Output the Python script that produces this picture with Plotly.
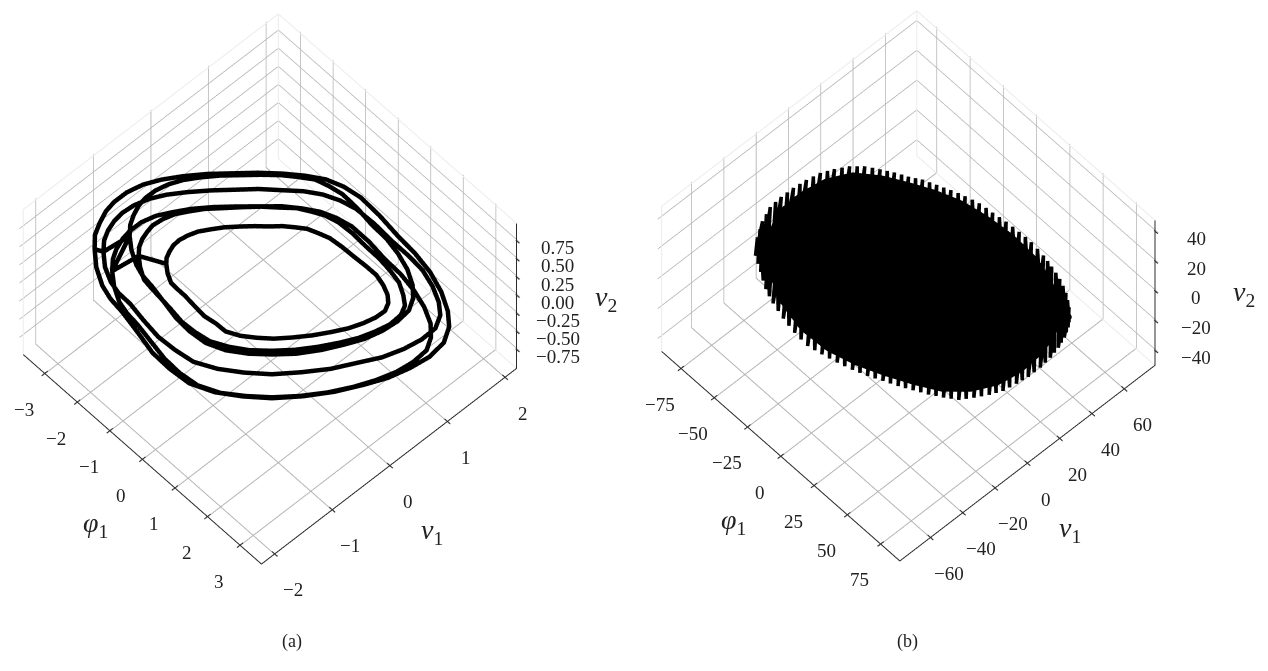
import plotly.graph_objects as go

# panel (a): six bands of the trajectory, one row per band
phi_a = [
    -2.90, -3.05, -3.12, -3.16, -3.15, -3.08, -2.94, -2.73, -2.46, -2.13, -1.78, -1.42, -1.06, -0.72, -0.38, -0.04, 0.32, 0.79, 1.27, 1.73, 2.15, 2.53, 2.84, 3.04, 3.14, 3.09, 2.94, 2.74, 2.46, 2.12, 1.73, 1.31, 0.87, 0.42, -0.04, -0.48, -0.91, -1.37, -1.79, -2.11, -2.38, -2.67, -2.90,
    -2.70, -2.82, -2.88, -2.90, -2.87, -2.79, -2.65, -2.44, -2.18, -1.86, -1.53, -1.19, -0.85, -0.53, -0.21, 0.10, 0.43, 0.85, 1.28, 1.69, 2.06, 2.39, 2.65, 2.82, 2.90, 2.83, 2.67, 2.46, 2.18, 1.86, 1.48, 1.08, 0.66, 0.24, -0.18, -0.58, -0.97, -1.37, -1.74, -2.03, -2.26, -2.51, -2.70,
    -2.32, -2.44, -2.50, -2.53, -2.52, -2.46, -2.35, -2.18, -1.97, -1.70, -1.42, -1.14, -0.85, -0.58, -0.30, -0.03, 0.26, 0.63, 1.02, 1.38, 1.72, 2.02, 2.27, 2.43, 2.51, 2.47, 2.35, 2.19, 1.97, 1.70, 1.38, 1.05, 0.70, 0.34, -0.03, -0.38, -0.73, -1.10, -1.43, -1.69, -1.90, -2.14, -2.32,
    -2.59, -2.71, -2.78, -2.80, -2.79, -2.72, -2.59, -2.40, -2.16, -1.86, -1.54, -1.22, -0.90, -0.59, -0.29, 0.02, 0.33, 0.75, 1.17, 1.57, 1.94, 2.27, 2.54, 2.71, 2.79, 2.74, 2.60, 2.41, 2.16, 1.85, 1.49, 1.12, 0.72, 0.32, -0.09, -0.48, -0.86, -1.26, -1.63, -1.91, -2.14, -2.39, -2.59,
    -2.13, -2.22, -2.27, -2.28, -2.27, -2.20, -2.08, -1.92, -1.71, -1.46, -1.20, -0.93, -0.66, -0.41, -0.15, 0.09, 0.35, 0.68, 1.01, 1.33, 1.62, 1.89, 2.09, 2.23, 2.28, 2.23, 2.10, 1.94, 1.72, 1.46, 1.16, 0.84, 0.51, 0.18, -0.15, -0.47, -0.77, -1.09, -1.38, -1.60, -1.79, -1.98, -2.13,
    -1.69, -1.75, -1.78, -1.79, -1.77, -1.70, -1.60, -1.44, -1.27, -1.04, -0.85, -0.64, -0.45, -0.25, -0.07, 0.15, 0.36, 0.64, 0.92, 1.19, 1.44, 1.65, 1.82, 1.93, 1.97, 1.91, 1.79, 1.64, 1.44, 1.20, 0.94, 0.69, 0.44, 0.18, -0.08, -0.30, -0.55, -0.82, -1.06, -1.25, -1.40, -1.56, -1.69,
]
v1_a = [
    -1.42, -1.33, -1.21, -1.08, -0.94, -0.76, -0.56, -0.36, -0.14, 0.11, 0.35, 0.58, 0.81, 1.00, 1.17, 1.29, 1.38, 1.44, 1.48, 1.53, 1.55, 1.53, 1.47, 1.38, 1.23, 1.01, 0.76, 0.49, 0.21, -0.10, -0.42, -0.72, -0.98, -1.21, -1.39, -1.48, -1.54, -1.55, -1.56, -1.59, -1.58, -1.52, -1.42,
    -1.38, -1.30, -1.20, -1.08, -0.96, -0.80, -0.61, -0.43, -0.22, 0.01, 0.24, 0.46, 0.67, 0.87, 1.02, 1.15, 1.24, 1.32, 1.37, 1.43, 1.47, 1.46, 1.42, 1.35, 1.22, 1.02, 0.80, 0.54, 0.29, -0.01, -0.30, -0.59, -0.84, -1.06, -1.24, -1.34, -1.41, -1.44, -1.46, -1.50, -1.50, -1.46, -1.38,
    -1.14, -1.06, -0.97, -0.86, -0.75, -0.61, -0.45, -0.29, -0.11, 0.09, 0.28, 0.47, 0.65, 0.80, 0.94, 1.03, 1.10, 1.15, 1.18, 1.23, 1.24, 1.23, 1.18, 1.10, 0.98, 0.81, 0.61, 0.39, 0.17, -0.08, -0.34, -0.57, -0.78, -0.97, -1.11, -1.19, -1.23, -1.24, -1.25, -1.27, -1.26, -1.21, -1.14,
    -1.29, -1.21, -1.11, -0.99, -0.87, -0.71, -0.53, -0.36, -0.16, 0.06, 0.28, 0.49, 0.70, 0.87, 1.02, 1.13, 1.22, 1.28, 1.32, 1.37, 1.39, 1.38, 1.34, 1.25, 1.13, 0.93, 0.71, 0.47, 0.22, -0.06, -0.34, -0.61, -0.84, -1.06, -1.22, -1.31, -1.36, -1.38, -1.39, -1.42, -1.42, -1.37, -1.29,
    -1.09, -1.03, -0.95, -0.86, -0.77, -0.63, -0.49, -0.34, -0.18, 0.00, 0.19, 0.36, 0.53, 0.68, 0.80, 0.90, 0.98, 1.04, 1.08, 1.13, 1.15, 1.16, 1.12, 1.07, 0.97, 0.81, 0.63, 0.43, 0.23, 0.00, -0.23, -0.46, -0.66, -0.83, -0.97, -1.05, -1.11, -1.13, -1.16, -1.18, -1.19, -1.15, -1.09,
    -0.86, -0.82, -0.75, -0.68, -0.59, -0.48, -0.36, -0.23, -0.09, 0.07, 0.20, 0.33, 0.46, 0.57, 0.67, 0.75, 0.82, 0.88, 0.93, 0.98, 1.02, 1.02, 1.00, 0.95, 0.87, 0.74, 0.59, 0.42, 0.24, 0.04, -0.16, -0.34, -0.49, -0.63, -0.74, -0.78, -0.84, -0.87, -0.89, -0.92, -0.94, -0.91, -0.86,
]
v2_a = [
    0.25, 0.33, 0.39, 0.46, 0.51, 0.56, 0.60, 0.63, 0.65, 0.66, 0.66, 0.67, 0.66, 0.65, 0.63, 0.59, 0.53, 0.43, 0.32, 0.22, 0.12, 0.01, -0.10, -0.18, -0.27, -0.35, -0.41, -0.46, -0.50, -0.54, -0.56, -0.57, -0.56, -0.54, -0.49, -0.41, -0.32, -0.20, -0.10, -0.02, 0.05, 0.15, 0.25,
    0.27, 0.33, 0.38, 0.43, 0.48, 0.52, 0.55, 0.58, 0.59, 0.60, 0.60, 0.61, 0.60, 0.59, 0.58, 0.54, 0.50, 0.41, 0.32, 0.24, 0.16, 0.07, -0.02, -0.09, -0.16, -0.22, -0.28, -0.32, -0.35, -0.38, -0.40, -0.41, -0.40, -0.38, -0.34, -0.27, -0.20, -0.11, -0.02, 0.04, 0.10, 0.18, 0.27,
    0.49, 0.55, 0.60, 0.66, 0.70, 0.74, 0.77, 0.80, 0.81, 0.82, 0.82, 0.82, 0.82, 0.81, 0.80, 0.76, 0.72, 0.64, 0.55, 0.47, 0.39, 0.30, 0.21, 0.145, 0.08, 0.02, -0.04, -0.08, -0.11, -0.14, -0.16, -0.16, -0.16, -0.14, -0.10, -0.03, 0.04, 0.13, 0.21, 0.27, 0.33, 0.41, 0.49,
    -0.01, 0.06, 0.11, 0.17, 0.21, 0.26, 0.29, 0.31, 0.33, 0.34, 0.34, 0.34, 0.34, 0.33, 0.31, 0.28, 0.23, 0.15, 0.05, -0.03, -0.12, -0.21, -0.31, -0.38, -0.45, -0.51, -0.57, -0.61, -0.65, -0.68, -0.70, -0.70, -0.70, -0.68, -0.64, -0.57, -0.49, -0.39, -0.31, -0.24, -0.18, -0.09, -0.01,
    0.26, 0.31, 0.35, 0.39, 0.43, 0.46, 0.49, 0.50, 0.52, 0.52, 0.52, 0.53, 0.52, 0.52, 0.50, 0.48, 0.44, 0.38, 0.31, 0.24, 0.18, 0.11, 0.04, -0.02, -0.07, -0.12, -0.16, -0.19, -0.22, -0.24, -0.26, -0.26, -0.26, -0.24, -0.21, -0.16, -0.10, -0.03, 0.04, 0.09, 0.13, 0.20, 0.26,
    0.185, 0.22, 0.255, 0.29, 0.315, 0.34, 0.36, 0.375, 0.385, 0.39, 0.39, 0.39, 0.39, 0.385, 0.375, 0.35, 0.325, 0.275, 0.22, 0.17, 0.12, 0.065, 0.01, -0.03, -0.075, -0.11, -0.145, -0.17, -0.19, -0.21, -0.22, -0.225, -0.22, -0.21, -0.185, -0.14, -0.10, -0.04, 0.01, 0.05, 0.085, 0.135, 0.185,
]

# panel (b): strokes back and forth across the dense cloud, there and back
phi_b = [
    -65.7, -61.3, -68.3, -55.1, -69.5, -48.6, -68.4, -42.2, -66.6, -34.4, -64.2, -26.6, -61.2, -18.4, -57.3, -11.1,
    -52.7, -3.5, -47.4, 3.8, -41.2, 10.8, -35.3, 17.5, -29.2, 24.3, -23.5, 30.7, -17.1, 37.3, -10.7, 43.4,
    -4.0, 49.4, 2.9, 54.1, 10.1, 58.7, 17.3, 62.5, 24.7, 65.2, 31.8, 67.5, 39.7, 69.2, 45.6, 70.0,
    51.8, 70.1, 57.8, 69.4, 62.8, 68.0, 66.1, 65.9,
    64.45, 66.95, 60.3, 68.7, 54.8, 69.75, 48.7, 70.05, 42.65, 69.6, 35.75, 68.35, 28.25, 66.35, 21.0, 63.85,
    13.7, 60.6, 6.5, 56.4, -0.55, 51.75, -7.35, 46.4, -13.9, 40.35, -20.3, 34.0, -26.35, 27.5, -32.25, 20.9,
    -38.25, 14.15, -44.3, 7.3, -50.05, 0.15, -55.0, -7.3, -59.25, -14.75, -62.7, -22.5, -65.4, -30.5, -67.5, -38.3,
    -69.0, -45.4, -68.9, -51.85, -67.0, -58.2,
]
v1_b = [
    -39.3, -44.1, -34.0, -46.0, -28.2, -48.2, -22.3, -49.0, -16.2, -49.1, -10.2, -48.5, -4.0, -47.2, 1.5, -44.4,
    7.1, -41.2, 12.1, -37.8, 16.5, -34.2, 20.5, -30.2, 24.2, -26.4, 28.2, -22.4, 31.7, -18.3, 35.2, -14.0,
    38.5, -9.5, 41.6, -4.0, 43.9, 1.7, 46.3, 7.1, 48.3, 13.2, 50.0, 18.6, 51.0, 24.7, 51.2, 30.2,
    51.1, 35.1, 50.0, 39.4, 47.8, 42.9, 44.5, 45.9,
    46.1, 44.4, 48.9, 41.2, 50.6, 37.2, 51.2, 32.7, 51.1, 27.5, 50.5, 21.6, 49.2, 15.9, 47.3, 10.1,
    45.1, 4.4, 42.8, -1.2, 40.1, -6.8, 36.9, -11.7, 33.4, -16.1, 29.9, -20.3, 26.2, -24.4, 22.4, -28.3,
    18.5, -32.2, 14.3, -36.0, 9.6, -39.5, 4.3, -42.8, -1.2, -45.8, -7.1, -47.9, -13.2, -48.8, -19.3, -49.0,
    -25.3, -48.6, -31.1, -47.1, -36.6, -45.1,
]
v2_b = [
    12.3, 7.4, 16.6, 3.0, 20.4, -1.6, 23.2, -5.5, 25.6, -9.5, 27.8, -13.4, 29.7, -16.9, 30.8, -19.1,
    31.6, -21.3, 31.6, -23.2, 30.8, -24.8, 30.0, -26.2, 28.9, -27.5, 28.1, -28.6, 26.7, -29.7, 25.3, -30.5,
    23.7, -31.1, 21.8, -30.5, 19.3, -29.7, 16.9, -28.6, 14.2, -26.7, 11.4, -24.8, 7.9, -22.3, 4.9, -19.6,
    1.6, -16.9, -2.2, -14.2, -6.0, -11.4, -9.5, -8.7,
    -7.75, -10.05, -4.1, -12.8, -0.3, -15.55, 3.25, -18.25, 6.4, -20.95, 9.65, -23.55, 12.8, -25.75, 15.55, -27.65,
    18.1, -29.15, 20.55, -30.1, 22.75, -30.8, 24.5, -30.8, 26.0, -30.1, 27.4, -29.15, 28.5, -28.05, 29.45, -26.85,
    30.4, -25.5, 31.2, -24.0, 31.6, -22.25, 31.2, -20.2, 30.25, -18.0, 28.75, -15.15, 26.7, -11.45, 24.4, -7.5,
    21.8, -3.55, 18.5, 0.7, 14.45, 5.2,
]

# outline of the part of the cloud where the line leaves no white
phi_fill_b = [
    -62.2, -65.8, -63.1, -58.0, -50.0, -39.0, -27.7, -16.2, -3.8, 9.6, 23.4, 37.6, 49.1, 59.5,
    62.4, 65.7, 66.3, 64.0, 59.2, 51.3, 41.1, 29.0, 16.6, 3.6, -10.5, -25.2, -40.0, -52.2,
]
v1_fill_b = [
    -37.3, -26.7, -15.3, -3.8, 6.7, 15.7, 23.0, 30.1, 36.5, 41.6, 45.7, 48.3, 48.4, 45.3,
    43.5, 37.3, 28.6, 17.6, 6.7, -3.8, -13.3, -21.2, -28.6, -35.8, -42.0, -45.9, -46.5, -43.6,
]
v2_fill_b = [
    11.6, 19.4, 24.3, 28.1, 30.0, 29.1, 27.4, 25.3, 22.5, 18.3, 13.5, 7.5, 1.5, -5.7,
    -8.2, -13.5, -18.5, -23.5, -27.1, -28.9, -28.9, -27.1, -24.8, -21.9, -18.1, -12.7, -5.3, 2.9,
]

phi_ticks_a = [-3, -2, -1, 0, 1, 2, 3]
v1_ticks_a = [-2, -1, 0, 1, 2]
v2_ticks_a = [-0.75, -0.50, -0.25, 0.00, 0.25, 0.50, 0.75]
phi_labels_a = ["−3", "−2", "−1", "0", "1", "2", "3"]
v1_labels_a = ["−2", "−1", "0", "1", "2"]
v2_labels_a = ["−0.75", "−0.50", "−0.25", "0.00", "0.25", "0.50", "0.75"]

phi_ticks_b = [-75, -50, -25, 0, 25, 50, 75]
v1_ticks_b = [-60, -40, -20, 0, 20, 40, 60]
v2_ticks_b = [-40, -20, 0, 20, 40]
phi_labels_b = ["−75", "−50", "−25", "0", "25", "50", "75"]
v1_labels_b = ["−60", "−40", "−20", "0", "20", "40", "60"]
v2_labels_b = ["−40", "−20", "0", "20", "40"]

FONT = "Liberation Serif"
TEXT = "#222222"


def axis(ticks, rng):
    return dict(
        title=dict(text=""),
        range=rng,
        tickvals=ticks,
        showticklabels=False,
        ticks="",
        showline=False,
        showgrid=True,
        gridcolor="#b4b4b4",
        zeroline=False,
        showbackground=False,
        showspikes=False,
    )


def note(text, x, y, z, dx, dy, size=19):
    return dict(text=text, x=x, y=y, z=z, xshift=dx, yshift=dy, showarrow=False,
                xanchor="center", yanchor="middle",
                font=dict(family=FONT, size=size, color=TEXT))


def labels(phi_t, phi_l, v1_t, v1_l, v2_t, v2_l, xr, yr, zr):
    out = []
    for t, s in zip(phi_t, phi_l):
        out.append(note(s, t, yr[0], zr[0], -21, -36))
    for t, s in zip(v1_t, v1_l):
        out.append(note(s, xr[1], t, zr[0], 18, -36))
    for t, s in zip(v2_t, v2_l):
        out.append(note(s, xr[1], yr[1], t, 41, -7))
    out.append(note("<i>φ</i><sub>1</sub>", 0, yr[0], zr[0], -47, -65, 28))
    out.append(note("<i>v</i><sub>1</sub>", xr[1], 0, zr[0], 42, -66, 28))
    out.append(note("<i>v</i><sub>2</sub>", xr[1], yr[1], 0, 89, -3, 28))
    return out


def padded(rng, low, high):
    # scatter3d is clipped at the axis range, so leave room for the frame and its ticks
    span = rng[1] - rng[0]
    return [rng[0] - span * low, rng[1] + span * high]


def frame_trace(phi_t, v1_t, v2_t, xr, yr, zr, scene_name):
    # plotly keeps the z axis on the left here, the reference has it on the right,
    # and its own axis lines stay one pixel thin, so the three axes are drawn as a trace
    xs = [xr[0], xr[1], xr[1], xr[1]]
    ys = [yr[0], yr[0], yr[1], yr[1]]
    zs = [zr[0], zr[0], zr[0], zr[1]]
    dx = (xr[1] - xr[0]) * 0.012
    dy = (yr[1] - yr[0]) * 0.012
    for t in phi_t:
        xs += [None, t, t]
        ys += [None, yr[0] - dy, yr[0] + dy]
        zs += [None, zr[0], zr[0]]
    for t in v1_t:
        xs += [None, xr[1] - dx, xr[1] + dx]
        ys += [None, t, t]
        zs += [None, zr[0], zr[0]]
    for t in v2_t:
        xs += [None, xr[1] - dx * 0.3, xr[1] + dx]
        ys += [None, yr[1], yr[1]]
        zs += [None, t, t]
    return go.Scatter3d(x=xs, y=ys, z=zs, mode="lines", hoverinfo="skip",
                        line=dict(color="#2a2a2a", width=2), scene=scene_name)


def pane_trace(xr, yr, zr, scene_name):
    # the faint outline of the two back walls and the floor
    xs = [xr[0], xr[0], xr[1], None, xr[0], xr[0], None, xr[0], xr[0], None, xr[0], xr[1], None, xr[1], xr[1]]
    ys = [yr[0], yr[1], yr[1], None, yr[1], yr[1], None, yr[0], yr[0], None, yr[1], yr[1], None, yr[0], yr[0]]
    zs = [zr[1], zr[1], zr[1], None, zr[0], zr[1], None, zr[0], zr[1], None, zr[0], zr[0], None, zr[0], zr[0]]
    return go.Scatter3d(x=xs, y=ys, z=zs, mode="lines", hoverinfo="skip",
                        line=dict(color="#ececec", width=2), scene=scene_name)


def scene(domain_x, eye, center, xaxis, yaxis, zaxis, notes):
    return dict(
        domain=dict(x=domain_x, y=[0, 1]),
        xaxis=xaxis,
        yaxis=yaxis,
        zaxis=zaxis,
        annotations=notes,
        aspectmode="manual",
        aspectratio=dict(x=1.056, y=1.056, z=0.762),
        camera=dict(
            projection=dict(type="orthographic"),
            eye=eye,
            up=dict(x=0, y=0, z=1),
            center=center,
        ),
    )


xr_a, yr_a, zr_a = [-3.66, 3.66], [-2.23, 2.2], [-1.01, 0.99]
xr_b, yr_b, zr_b = [-89.5, 89.5], [-79, 79], [-49.9, 47.3]

fan_i = [0] * (len(phi_fill_b) - 2)
fan_j = list(range(1, len(phi_fill_b) - 1))
fan_k = list(range(2, len(phi_fill_b)))

fig = go.Figure()
fig.add_trace(pane_trace(xr_a, yr_a, zr_a, "scene"))
fig.add_trace(frame_trace(phi_ticks_a, v1_ticks_a, v2_ticks_a, xr_a, yr_a, zr_a, "scene"))
fig.add_trace(go.Scatter3d(x=phi_a, y=v1_a, z=v2_a, mode="lines",
                           line=dict(color="black", width=9), scene="scene"))
fig.add_trace(pane_trace(xr_b, yr_b, zr_b, "scene2"))
fig.add_trace(frame_trace(phi_ticks_b, v1_ticks_b, v2_ticks_b, xr_b, yr_b, zr_b, "scene2"))
fig.add_trace(go.Mesh3d(x=phi_fill_b, y=v1_fill_b, z=v2_fill_b, i=fan_i, j=fan_j, k=fan_k,
                        color="black", flatshading=True, hoverinfo="skip",
                        lighting=dict(ambient=1, diffuse=0, specular=0, fresnel=0),
                        scene="scene2"))
fig.add_trace(go.Scatter3d(x=phi_b, y=v1_b, z=v2_b, mode="lines",
                           line=dict(color="black", width=7), scene="scene2"))

fig.update_layout(
    width=1268,
    height=671,
    showlegend=False,
    paper_bgcolor="white",
    margin=dict(l=0, r=0, t=0, b=0),
    scene=scene(
        [0, 0.49], dict(x=0.9933, y=-0.7290, z=1.4864), dict(x=0.1933, y=0.0180, z=-0.0896),
        axis(phi_ticks_a, padded(xr_a, 0.003, 0.012)),
        axis(v1_ticks_a, padded(yr_a, 0.012, 0.003)),
        axis(v2_ticks_a, padded(zr_a, 0.003, 0.003)),
        labels(phi_ticks_a, phi_labels_a, v1_ticks_a, v1_labels_a, v2_ticks_a, v2_labels_a, xr_a, yr_a, zr_a),
    ),
    scene2=scene(
        [0.49, 1], dict(x=0.9899, y=-0.7438, z=1.4811), dict(x=0.1899, y=0.0032, z=-0.0949),
        axis(phi_ticks_b, padded(xr_b, 0.003, 0.012)),
        axis(v1_ticks_b, padded(yr_b, 0.012, 0.003)),
        axis(v2_ticks_b, padded(zr_b, 0.003, 0.003)),
        labels(phi_ticks_b, phi_labels_b, v1_ticks_b, v1_labels_b, v2_ticks_b, v2_labels_b, xr_b, yr_b, zr_b),
    ),
    annotations=[
        dict(text="(a)", xref="paper", yref="paper", showarrow=False,
             font=dict(family=FONT, size=18, color=TEXT), x=272 / 1268, y=1 - 646 / 671),
        dict(text="(b)", xref="paper", yref="paper", showarrow=False,
             font=dict(family=FONT, size=18, color=TEXT), x=912 / 1268, y=1 - 646 / 671),
    ],
)

fig.write_html("out.html")
